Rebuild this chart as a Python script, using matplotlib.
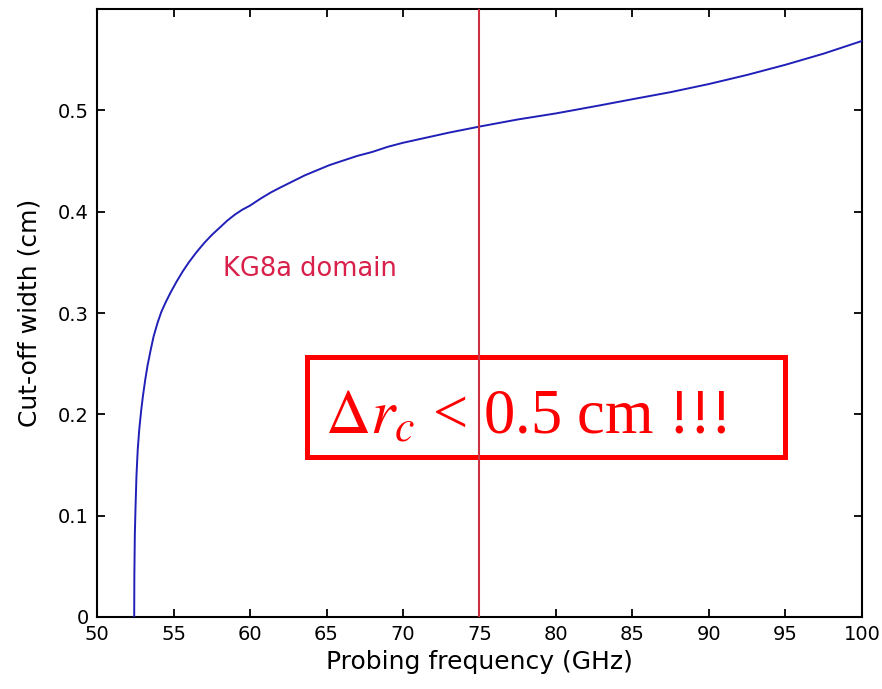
import numpy as np
import matplotlib.pyplot as plt
from matplotlib.patches import Rectangle

# cut-off width vs. probing frequency
freq_ghz = [52.43, 52.44, 52.47, 52.52, 52.58, 52.66, 52.76, 52.88, 53.00,
            53.15, 53.30, 53.50, 53.70, 53.95, 54.20, 54.50, 54.80, 55.20,
            55.60, 56.00, 56.50, 57.00, 57.50, 58.00, 58.50, 59.00, 59.50,
            60.00, 60.70, 61.36, 62.00, 62.80, 63.60, 64.40, 65.20, 66.00,
            67.00, 68.00, 69.00, 70.00, 71.50, 73.00, 75.00, 77.50, 80.00,
            82.90, 85.00, 87.50, 90.00, 92.50, 95.00, 97.50, 100.0]
cutoff_cm = [0.000, 0.040, 0.080, 0.110, 0.140, 0.165, 0.185, 0.203, 0.218,
             0.234, 0.248, 0.263, 0.277, 0.290, 0.301, 0.311, 0.320, 0.331,
             0.341, 0.350, 0.360, 0.369, 0.377, 0.384, 0.391, 0.397, 0.402,
             0.406, 0.413, 0.419, 0.424, 0.430, 0.436, 0.441, 0.446, 0.450,
             0.455, 0.459, 0.464, 0.468, 0.473, 0.478, 0.484, 0.491, 0.497,
             0.505, 0.511, 0.518, 0.526, 0.535, 0.545, 0.556, 0.5685]

kg8a_freq = 75
x_ticks = [50, 55, 60, 65, 70, 75, 80, 85, 90, 95, 100]
y_ticks = [0, 0.1, 0.2, 0.3, 0.4, 0.5]
y_ticklabels = ['0', '0.1', '0.2', '0.3', '0.4', '0.5']

plt.rcParams['font.family'] = ['DejaVu Sans']
plt.rcParams['mathtext.fontset'] = 'stix'

fig = plt.figure(figsize=(8.82, 6.89), dpi=100)
ax = fig.add_axes([0.110, 0.1045, 0.8673, 0.8824])

ax.plot(freq_ghz, cutoff_cm, color='#2020b8', lw=1.4, zorder=3)

# highlight box (drawn below the frequency marker)
ax.add_patch(Rectangle((0.2745, 0.263), 0.625, 0.1645, transform=ax.transAxes,
                       fill=False, edgecolor='#ff0000', lw=3.6, zorder=2))
ax.axvline(kg8a_freq, color='#cc3040', lw=1.5, zorder=4)

ax.text(58.22, 0.337, 'KG8a domain', color='#d8204a', fontsize=18.5,
        va='baseline', ha='left')
ax.text(0.2985, 0.3026, r'$\Delta r_c$ < 0.5 cm !!!', transform=ax.transAxes,
        color='#ff0000', fontsize=45, family='Liberation Serif',
        va='baseline', ha='left')

ax.set_xlim(50, 100)
ax.set_ylim(0, 0.6)
ax.set_xticks(x_ticks)
ax.set_yticks(y_ticks)
ax.set_yticklabels(y_ticklabels)
ax.tick_params(direction='in', length=6, width=1.3, labelsize=14,
               top=True, right=True, pad=6)
for sp in ax.spines.values():
    sp.set_linewidth(1.5)

ax.set_xlabel('Probing frequency (GHz)', fontsize=18, labelpad=4)
ax.set_ylabel('Cut-off width (cm)', fontsize=18, labelpad=12)

fig.savefig('out.png', dpi=100)
